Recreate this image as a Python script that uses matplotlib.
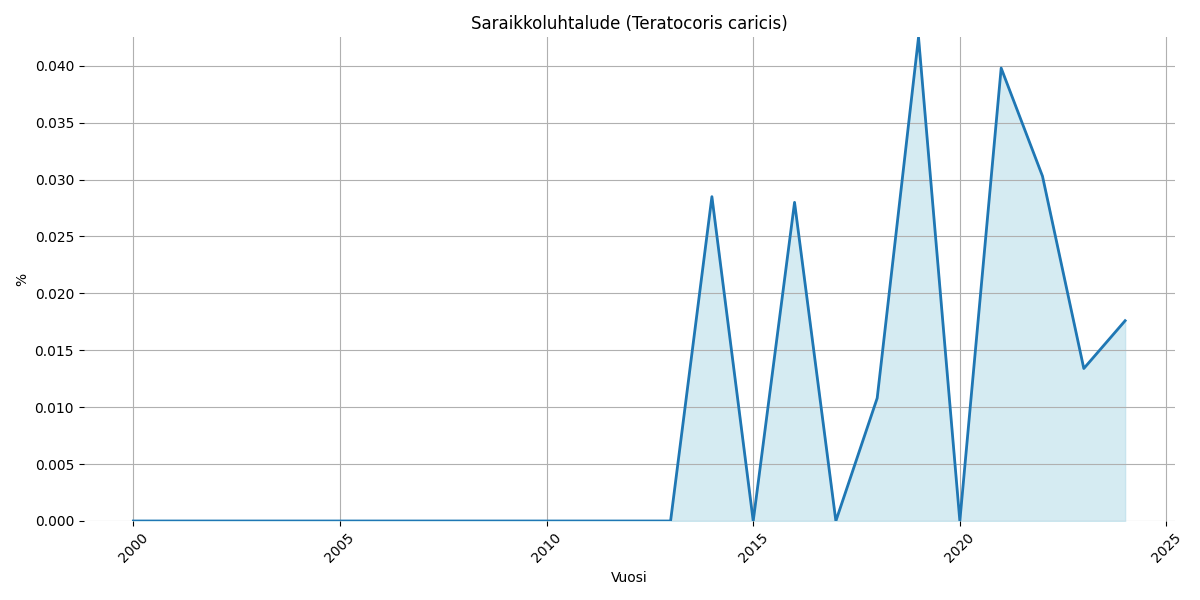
import matplotlib
matplotlib.use('Agg')
import matplotlib.pyplot as plt

years = list(range(2000, 2025))
values = [0.0] * 14 + [0.0285, 0.0, 0.0280, 0.0, 0.0108, 0.0425, 0.0,
                       0.0398, 0.0303, 0.0134, 0.0176]

fig, ax = plt.subplots(figsize=(12, 6), dpi=100)
ax.fill_between(years, values, color='lightblue', alpha=0.5)
ax.plot(years, values, color='#1f77b4', linewidth=2)

ax.set_title('Saraikkoluhtalude (Teratocoris caricis)')
ax.set_xlabel('Vuosi')
ax.set_ylabel('%')
ax.set_ylim(0, max(values))
ax.grid(True)
for s in ax.spines.values():
    s.set_visible(False)
plt.xticks(rotation=45)

plt.tight_layout()
plt.savefig('out.png')
